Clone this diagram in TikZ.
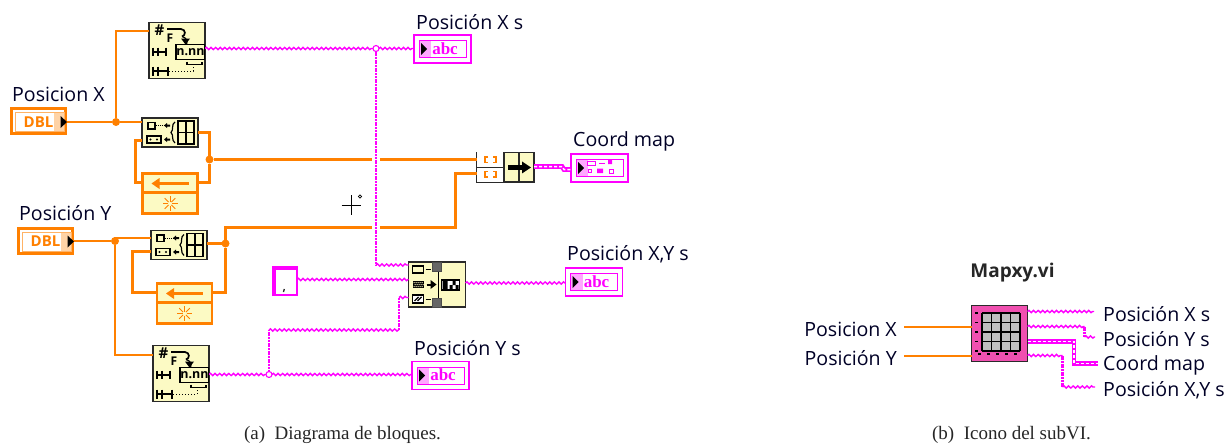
\documentclass[tikz,border=0pt]{standalone}
\usepackage{fontspec}
\setmainfont{Liberation Serif}
\newfontfamily\lblfont{Open Sans}
\usetikzlibrary{decorations.pathmorphing,calc}
\definecolor{lvorange}{HTML}{FF8000}
\definecolor{lvpink}{HTML}{FF00FF}
\definecolor{lvcream}{HTML}{FCFAC4}
\definecolor{lvdark}{HTML}{2A2A2A}
\definecolor{lvshade}{HTML}{FFA8FF}
\definecolor{lvicon}{HTML}{F050B0}
\tikzset{
  lbl/.style={font=\lblfont\fontsize{19.6}{20}\selectfont,text=black!85!blue,anchor=west,inner sep=0pt},
  captxt/.style={font=\fontsize{19}{20}\selectfont,inner sep=0pt,text=black!85},
  block/.style={draw=lvdark,line width=1.5pt,fill=lvcream,inner sep=0pt,outer sep=0pt,minimum width=#1},
  blockh/.style={minimum height=#1},
  orangebox/.style={draw=lvorange,line width=2.8pt,fill=lvcream,inner sep=0pt,outer sep=0pt,minimum width=55,minimum height=40},
  ctrl/.style={draw=lvorange,line width=3pt,fill=white,inner sep=0pt,outer sep=0pt,minimum width=54,minimum height=25},
  indic/.style={draw=lvpink,line width=1.1pt,fill=white,inner sep=0pt,outer sep=0pt,minimum width=57,minimum height=28},
  ow/.style={draw=lvorange,line width=2pt},
  owt/.style={draw=lvorange,line width=3pt},
  sw/.style={draw=lvpink,line width=1.4pt,decorate,decoration={snake,segment length=4.6pt,amplitude=1.1pt}},
  swv/.style={draw=lvpink,line width=2.7pt,dash pattern=on 2pt off .7pt},
  cw/.style={draw=lvpink,line width=4.8pt,postaction={draw=white,line width=1.5pt,dash pattern=on 3pt off 2pt}},
  jo/.style={circle,fill=lvorange,inner sep=0pt,outer sep=0pt,minimum size=#1},
  jp/.style={circle,draw=lvpink,line width=1.1pt,fill=white,inner sep=0pt,outer sep=0pt,minimum size=6},
  ink/.style={draw=black,line width=1.2pt},
  forglyph/.pic={
    \node[inner sep=0pt,font=\lblfont\bfseries\fontsize{15}{15}\selectfont] (hash) at (10.5,8) {\#};
    \node[inner sep=0pt,font=\lblfont\bfseries\fontsize{12}{12}\selectfont] (eff) at (21,15.5) {F};
    \draw[ink,line width=1.7pt] (18,6.5) -- (32,6.5) .. controls (37,7) and (37,13) .. (33,14);
    \draw[ink] (33,14) .. controls (40,16) and (38,22) .. (37,22);
    \fill (32,16) -- (41,16) -- (36.5,22) -- cycle;
    \draw[ink,fill=lvcream] (27,22) rectangle (55.5,37);
    \node[inner sep=0pt,font=\lblfont\bfseries\fontsize{12.5}{12.5}\selectfont] (nn) at (41.5,29.5) {n.nn};
    \draw[ink] (4,25) -- (4,33) (17,25) -- (17,33) (9,25) -- (9,33) (4,29.5) -- (17,29.5);
    \draw[ink] (4,44) -- (4,53) (19,44) -- (19,53) (9,44) -- (9,53) (4,48.5) -- (19,48.5);
    \draw[black,line width=1pt,dotted] (20,48.5) -- (44,48.5) -- (44,43);
    \draw[ink] (38,39) -- (38,42) -- (53,42) -- (53,39);
  },
  buildglyph/.pic={
    \draw[ink] (6,4.5) rectangle (13,11);
    \draw[black,line width=.9pt,densely dotted] (14,7.5) -- (23,7.5);
    \fill (22,7.5) -- (25,5) -- (25,6.5) -- (28,6.5) -- (28,8.5) -- (25,8.5) -- (25,10) -- cycle;
    \draw[ink] (5,18) rectangle (19,25);
    \fill (8.5,21.5) circle (1.2) (15,21.5) circle (1.2);
    \fill (22,21.5) -- (25,19) -- (25,20.5) -- (28,20.5) -- (28,22.5) -- (25,22.5) -- (25,24) -- cycle;
    \draw[ink] (33,4) .. controls (29,6) and (32,12) .. (29,14.5) .. controls (32,17) and (29,22) .. (33,25);
    \draw[black,line width=1.5pt] (36,3) rectangle (52,26) (44,3) -- (44,26) (36,14.5) -- (52,14.5);
  },
  arrayglyph/.pic={
    \draw[lvorange,line width=2.4pt] (0,19) -- (55,19);
    \draw[lvorange,line width=2.8pt] (14,10) -- (46,10);
    \fill[lvorange] (9,10) -- (17,4.5) -- (17,15.5) -- cycle;
    \foreach \a in {0,45,...,315}{\draw[lvorange,line width=1pt] (27.5,30)+(\a:2) -- +(\a:7.5);}
  },
  dblglyph/.pic={
    \draw[lvorange!60,line width=.9pt] (4,4) rectangle (53,23);
    \fill[lvorange!35] (42,4.5) rectangle (52.5,22.5);
    \node[inner sep=0pt,text=lvorange,font=\lblfont\bfseries\fontsize{15}{15}\selectfont] (dbl) at (27,13.5) {DBL};
    \fill[black] (49,7.5) -- (55.5,13.5) -- (49,19.5) -- cycle;
  },
  indframe/.pic={
    \draw[lvpink,line width=1pt] (5,5.5) rectangle (52,22.5);
    \fill[lvshade] (5.5,6) rectangle (17,22);
    \fill[black] (7,8) -- (13,14) -- (7,20) -- cycle;
  },
  abcglyph/.pic={
    \pic {indframe};
    \node[inner sep=0pt,text=lvpink,font=\bfseries\fontsize{17}{17}\selectfont] (abc) at (31,13.5) {abc};
  },
  mapglyph/.pic={
    \pic {indframe};
    \draw[lvpink,line width=1pt] (16,7) rectangle (24,11) (28,9) -- (34,9) (17,15) rectangle (20,18.5) (38,15) rectangle (42,19);
    \fill[lvpink] (37,6) rectangle (41,10) (26,14.5) rectangle (32,19);
  },
  coordglyph/.pic={
    \fill[white] (0,0) rectangle (27,29.5);
    \draw[lvdark,line width=1.2pt] (0,14.7) -- (27,14.7) (27,0) -- (27,29.5) (42,0) -- (42,29.5);
    \draw[lvorange,line width=1.2pt] (11,4.5) -- (8,4.5) -- (8,10) -- (11,10) (16,4.5) -- (19,4.5) -- (19,10) -- (16,10);
    \draw[lvorange,line width=1.2pt] (11,19) -- (8,19) -- (8,24.5) -- (11,24.5) (16,19) -- (19,19) -- (19,24.5) -- (16,24.5);
    \draw[black,line width=5pt] (31,15) -- (47,15);
    \fill[black] (45,9) -- (54,15) -- (45,21) -- cycle;
  },
  fmtglyph/.pic={
    \draw[ink] (4,4) rectangle (15,11);
    \fill[black] (4,19) rectangle (15,26);
    \foreach \u in {5,7,...,13}{\fill[lvcream] (\u,20) rectangle +(1,1) (\u+1,22) rectangle +(1,1) (\u,24) rectangle +(1,1);}
    \draw[ink,fill=white] (4,33) rectangle (15,41);
    \draw[black,line width=1.3pt] (6,39) -- (10,35) (9,39) -- (13,35);
    \draw[black,line width=.9pt] (17,7) -- (22,7) (17,37) -- (22,37);
    \draw[black,line width=2pt] (18,22.5) -- (24,22.5);
    \fill[black] (22,18) -- (28,22.5) -- (22,27) -- cycle;
    \draw[black,line width=1.2pt] (30,9) -- (30,36);
    \fill[black!60,draw=black!70] (23.5,0) rectangle (32.5,9) (23.5,36) rectangle (32.5,45);
    \draw[ink,fill=white] (33,18) rectangle (51,28);
    \fill[black] (34,18.5) rectangle (39,27.5) (44,19) rectangle (47,23) (41,23) rectangle (44,27) (47,23) rectangle (50,27);
  },
  vicon/.pic={
    \fill[black!25] (0,0) rectangle (38,38);
    \foreach \u in {0,9.5,...,38}{\draw[black,line width=1.3pt] (\u,0) -- (\u,38);}
    \foreach \u in {0,9.5,...,38}{\draw[black,line width=1.3pt] (0,\u) -- (38,\u);}
    \foreach \u in {0,9.5,...,38}{\draw[black,line width=1.5pt] (-7,\u) -- (-4,\u);}
    \foreach \u in {-4,5,...,32}{\draw[black,line width=1.5pt] (\u,41) -- (\u+3,41);}
  },
}
\begin{document}
\begin{tikzpicture}[x=1pt,y=-1pt]
\useasboundingbox (0,0) rectangle (1231,447);

% --- blocks of the diagram (a)
\node[block=56,blockh=56] (forx) at (177,50.5) {};
\node[block=56,blockh=56] (fory) at (181,373.5) {};
\node[block=56,blockh=29] (bldx) at (170,132.5) {};
\node[block=56,blockh=29] (bldy) at (179,245) {};
\node[orangebox] (arrx) at (170,193.5) {};
\node[orangebox] (arry) at (184.5,303.5) {};
\node[block=57,blockh=29.5] (coord) at (505.5,167.2) {};
\node[block=57,blockh=45] (fmt) at (437,284.5) {};
\node[ctrl] (px) at (38.5,121) {};
\node[ctrl] (py) at (45.5,240.5) {};
\node[indic] (sx) at (442.5,49) {};
\node[indic] (sy) at (440.5,375.5) {};
\node[indic] (sxy) at (594,282) {};
\node[indic] (map) at (599.5,168) {};
\node[draw=lvpink,line width=2.2pt,fill=white,inner sep=0pt,outer sep=0pt,minimum width=24,minimum height=28] (cst) at (285,281) {};

% junctions
\node[jo=8] (jx) at (116,122) {};
\node[jo=8] (jy) at (115,241) {};
\node[jo=8] (jbx) at (209.5,159.5) {};
\node[jo=8] (jby) at (225.5,243.5) {};
\coordinate (cx) at (372,159.5);
\coordinate (cy) at (372,227.5);

% orange wires
\draw[ow] (px.east |- jx) -- (jx);
\draw[ow] (jx) -- (bldx.west |- jx);
\draw[ow] (jx) |- (forx.west |- 0,31);
\draw[ow] (py.east |- jy) -- (jy);
\draw[ow] (jy) -- (115,238) -- (bldy.west |- 0,238);
\draw[ow] (jy) |- (fory.west |- 0,355);
\draw[owt] (arrx.west |- 0,182.5) -- (135.5,182.5) -- (135.5,140.5) -- (bldx.west |- 0,140.5);
\draw[owt] (bldx.east |- 0,132.5) -- (209.5,132.5) -- (jbx);
\draw[owt] (arrx.east |- 0,182.5) -- (209.5,182.5) -- (jbx);
\draw[owt] (jbx) -- (cx);
\draw[owt] (380,159.5) -- (coord.west |- jbx);
\draw[owt] (arry.west |- 0,292.5) -- (132.5,292.5) -- (132.5,251.5) -- (bldy.west |- 0,251.5);
\draw[owt] (bldy.east |- jby) -- (jby);
\draw[owt] (arry.east |- 0,292.5) -- (225.5,292.5) -- (jby);
\draw[owt] (jby) -- (225.5,227.5) -- (cy);
\draw[owt] (380,227.5) -- (455.5,227.5) -- (455.5,173.5) -- (coord.west |- 0,173.5);

% pink wires
\node[jp] (jsx) at (376,48.5) {};
\node[jp] (jsy) at (269,374.5) {};
\coordinate (k1) at (376,265);
\coordinate (k2) at (269,330);
\coordinate (k3) at (399,330);
\coordinate (k4) at (399,297.5);
\draw[sw] (forx.east |- jsx) -- (jsx);
\draw[sw] (jsx) -- (sx.west |- jsx);
\draw[swv] (jsx) -- (k1);
\draw[sw] (k1) -- (fmt.west |- k1);
\draw[sw] (fory.east |- jsy) -- (jsy);
\draw[sw] (jsy) -- (sy.west |- jsy);
\draw[swv] (jsy) -- (k2);
\draw[sw] (k2) -- (k3);
\draw[swv] (k3) -- (k4);
\draw[sw] (k4) -- (fmt.west |- k4);
\draw[sw] (cst.east |- 0,279.5) -- (fmt.west |- 0,279.5);
\draw[sw] (fmt.east |- 0,283) -- (sxy.west |- 0,283);
\draw[cw] (coord.east |- 0,166.5) -- (562,166.5) -- (564,169.5) -- (map.west |- 0,169.5);

% glyphs
\pic (g1) at (forx.north west) {forglyph};
\pic (g2) at (fory.north west) {forglyph};
\pic (g3) at (bldx.north west) {buildglyph};
\pic (g4) at (bldy.north west) {buildglyph};
\pic (g5) at (arrx.north west) {arrayglyph};
\pic (g6) at (arry.north west) {arrayglyph};
\pic (g7) at (px.north west) {dblglyph};
\pic (g8) at (py.north west) {dblglyph};
\pic (g9) at (sx.north west) {abcglyph};
\pic (g10) at (sy.north west) {abcglyph};
\pic (g11) at (sxy.north west) {abcglyph};
\pic (g12) at (map.north west) {mapglyph};
\pic (g13) at (coord.north west) {coordglyph};
\pic (g14) at (fmt.north west) {fmtglyph};
\draw[draw=lvpink,line width=4pt] (cst.north east) ++(0,1) -- ++(-23,0) -- ++(0,27);
\draw[lvdark,line width=1.3pt] (cst.north west) ++(10.5,25) -- ++(0.8,-3);

% cursor
\draw[black,line width=1pt] (341.5,205) -- (361,205) (351,195) -- (351,215);
\draw[black,line width=.7pt] (360,196.5) circle (1.6);

% labels (a)
\node[lbl] (lpx) at (12,94) {Posicion X};
\node[lbl] (lpy) at (19,213) {Posición Y};
\node[lbl] (lsx) at (416,22) {Posición X s};
\node[lbl] (lmap) at (573,141) {Coord map};
\node[lbl] (lsxy) at (567,254) {Posición X,Y s};
\node[lbl] (lsy) at (414,348) {Posición Y s};

% --- subVI (b)
\node[draw=lvdark,line width=1.5pt,fill=lvicon,inner sep=0pt,outer sep=0pt,minimum size=56] (icon) at (999.5,333.5) {};
\pic (g15) at (982,313) {vicon};
\node[font=\lblfont\bfseries\fontsize{19}{20}\selectfont,inner sep=0pt,text=black!85] (ttl) at (1012.5,273) {Mapxy.vi};
\node[lbl,anchor=east] (bx) at (897,329) {Posicion X};
\node[lbl,anchor=east] (by) at (897,358) {Posición Y};
\node[lbl] (bsx) at (1103,314) {Posición X s};
\node[lbl] (bsy) at (1103,339) {Posición Y s};
\node[lbl] (bmap) at (1103,365) {Coord map};
\node[lbl] (bsxy) at (1103,390) {Posición X,Y s};
\coordinate (ex) at (904,327);
\coordinate (ey) at (904,356);
\coordinate (o1) at (1094,311.5);
\coordinate (o2) at (1095,337);
\coordinate (o3) at (1098,363.5);
\coordinate (o4) at (1095,387);
\coordinate (m2a) at (1084.5,326.5);
\coordinate (m2b) at (1084.5,337);
\coordinate (m4a) at (1062.5,355.5);
\coordinate (m4b) at (1062.5,387);
\draw[ow] (ex) -- (icon.west |- ex);
\draw[ow] (ey) -- (icon.west |- ey);
\draw[sw] (icon.east |- o1) -- (o1);
\draw[sw] (icon.east |- m2a) -- (m2a);
\draw[swv] (m2a) -- (m2b);
\draw[sw] (m2b) -- (o2);
\draw[cw] (icon.east |- 0,341.5) -- (1074,341.5) -- (1074,363.5) -- (o3);
\draw[sw] (icon.east |- m4a) -- (m4a);
\draw[swv] (m4a) -- (m4b);
\draw[sw] (m4b) -- (o4);

% captions
\node[captxt] (capa) at (342.5,434.5) {(a)\ \ Diagrama de bloques.};
\node[captxt] (capb) at (1011.5,434.5) {(b)\ \ Icono del subVI.};
\end{tikzpicture}
\end{document}
